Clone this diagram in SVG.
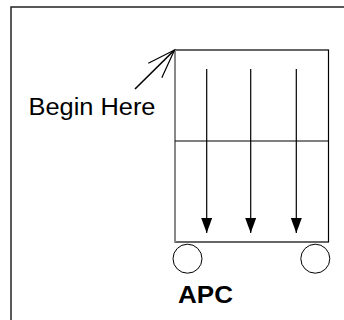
<svg xmlns="http://www.w3.org/2000/svg" width="344" height="320" viewBox="0 0 344 320">
  <style>
    .frame { fill: none; stroke: #222; stroke-width: 1.5; }
    .body { fill: none; stroke: #000; stroke-width: 1.2; }
    .flow { stroke: #000; stroke-width: 1.2; fill: none; }
    .wheel { fill: #fff; stroke: #000; stroke-width: 1; }
    .lbl { font-family: "Liberation Sans", Arial, sans-serif; fill: #000; }
  </style>
  <defs>
    <marker id="head" viewBox="0 0 15 11" refX="15" refY="5.5" markerWidth="15" markerHeight="11" markerUnits="userSpaceOnUse" orient="auto">
      <path d="M0,0 L15,5.5 L0,11 Z" fill="#000"/>
    </marker>
  </defs>

  <rect width="344" height="320" fill="#fff"/>

  <!-- outer frame (open on right and bottom) -->
  <path class="frame" d="M11,320 V7 H344"/>

  <!-- APC unit -->
  <g id="apc">
    <rect class="body" x="175" y="50" width="153.5" height="192"/>
    <line x1="175" y1="50" x2="175" y2="242" stroke="#888" stroke-width="2"/>
    <line class="body" x1="175" y1="141" x2="328.5" y2="141"/>
    <circle class="wheel" cx="187.5" cy="258.7" r="14.5"/>
    <circle class="wheel" cx="315.3" cy="258.7" r="14.5"/>
    <text class="lbl" x="178" y="303" font-size="24" font-weight="bold" textLength="55" lengthAdjust="spacingAndGlyphs">APC</text>
  </g>

  <!-- start label -->
  <g id="begin">
    <text class="lbl" x="28.5" y="115" font-size="23" textLength="127" lengthAdjust="spacingAndGlyphs">Begin Here</text>
  </g>

  <!-- connectors -->
  <g id="connectors">
    <line class="flow" x1="206.7" y1="69" x2="206.7" y2="233" marker-end="url(#head)"/>
    <line class="flow" x1="250.7" y1="69" x2="250.7" y2="233" marker-end="url(#head)"/>
    <line class="flow" x1="296.3" y1="69" x2="296.3" y2="233" marker-end="url(#head)"/>
    <line x1="135" y1="89" x2="174.5" y2="50" stroke="#000" stroke-width="1.6"/>
    <path d="M148.3,63.3 L174.5,50 L161.8,77.7" fill="none" stroke="#000" stroke-width="1.2"/>
  </g>
</svg>
